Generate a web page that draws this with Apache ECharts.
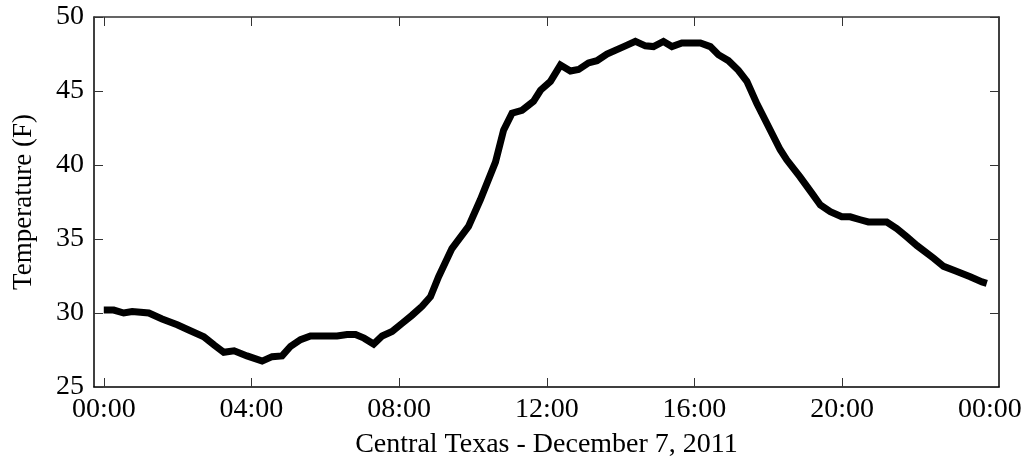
<!DOCTYPE html>
<html>
<head>
<meta charset="utf-8">
<script src="https://cdn.jsdelivr.net/npm/echarts@6/dist/echarts.min.js"></script>
<style>
  html, body { margin: 0; padding: 0; background: #ffffff; }
  #chart { width: 1034px; height: 460px; }
</style>
</head>
<body>
<div id="chart"></div>
<script>
// Hour of day (decimal hours) and air temperature in °F, Central Texas, 7 Dec 2011
const hours = [
  0.00, 0.27, 0.54, 0.77, 1.22, 1.58, 1.99, 2.30, 2.71, 2.98,
  3.25, 3.53, 3.88, 4.29, 4.56, 4.83, 5.06, 5.33, 5.60, 6.32,
  6.59, 6.82, 7.05, 7.31, 7.54, 7.81, 8.08, 8.35, 8.62, 8.85,
  9.07, 9.43, 9.88, 10.20, 10.61, 10.83, 11.06, 11.33, 11.64, 11.83,
  12.10, 12.37, 12.64, 12.86, 13.13, 13.36, 13.63, 14.13, 14.40, 14.67,
  14.89, 15.16, 15.39, 15.66, 16.16, 16.43, 16.65, 16.92, 17.19, 17.42,
  17.69, 18.32, 18.50, 18.86, 19.18, 19.41, 19.68, 19.99, 20.22, 20.49,
  20.71, 21.21, 21.48, 21.75, 22.03, 22.48, 22.75, 23.06, 23.47, 23.79,
  23.92
];
const tempF = [
  30.2, 30.2, 30.0, 30.1, 30.0, 29.6, 29.2, 28.85, 28.4, 27.85,
  27.35, 27.45, 27.1, 26.75, 27.05, 27.1, 27.75, 28.2, 28.45, 28.45,
  28.55, 28.55, 28.3, 27.9, 28.45, 28.75, 29.3, 29.85, 30.45, 31.1,
  32.45, 34.35, 35.85, 37.65, 40.2, 42.35, 43.5, 43.7, 44.3, 45.05,
  45.65, 46.75, 46.35, 46.45, 46.9, 47.05, 47.5, 48.05, 48.35, 48.05,
  48.0, 48.35, 48.0, 48.25, 48.25, 48.0, 47.45, 47.05, 46.4, 45.65,
  44.15, 41.05, 40.35, 39.2, 38.1, 37.3, 36.85, 36.5, 36.5, 36.3,
  36.15, 36.15, 35.7, 35.15, 34.55, 33.7, 33.15, 32.85, 32.45, 32.1,
  32.0
];

// Tick marks every 4 hours; the final midnight label sits at 24 h
const tickHours = [0, 4, 8, 12, 16, 20];
const labelHours = [0, 4, 8, 12, 16, 20, 24];
const yTickValues = [25, 30, 35, 40, 45, 50];

const serif = 'Liberation Serif';
const xMin = -0.265, xMax = 24.25;

function hhmm(h) {
  const hh = Math.round(h) % 24;
  return (hh < 10 ? '0' : '') + hh + ':00';
}

const chart = echarts.init(document.getElementById('chart'), null, { renderer: 'canvas' });

const tickStyle = { show: true, inside: true, length: 9, lineStyle: { color: '#333', width: 1 } };

chart.setOption({
  animation: false,
  backgroundColor: '#ffffff',
  grid: { left: 94, right: 35, top: 17, bottom: 73, containLabel: false, outerBoundsMode: 'none' },
  xAxis: [
    {
      type: 'value', min: xMin, max: xMax, position: 'bottom',
      axisLine: { show: true, onZero: false, lineStyle: { color: '#000', width: 1.5 } },
      axisTick: Object.assign({ customValues: tickHours }, tickStyle),
      axisLabel: {
        customValues: labelHours, formatter: hhmm, margin: 9,
        fontFamily: serif, fontSize: 28, color: '#000', showMinLabel: true, showMaxLabel: true
      },
      splitLine: { show: false },
      name: 'Central Texas - December 7, 2011',
      nameLocation: 'middle', nameGap: 44,
      nameTextStyle: { fontFamily: serif, fontSize: 28, color: '#000' }
    },
    {
      type: 'value', min: xMin, max: xMax, position: 'top',
      axisLine: { show: true, onZero: false, lineStyle: { color: '#333', width: 1.5 } },
      axisTick: Object.assign({ customValues: tickHours }, tickStyle),
      axisLabel: { show: false },
      splitLine: { show: false }
    }
  ],
  yAxis: [
    {
      type: 'value', min: 25, max: 50, interval: 5, position: 'left',
      axisLine: { show: true, onZero: false, lineStyle: { color: '#000', width: 1.5 } },
      axisTick: tickStyle,
      axisLabel: {
        margin: 10, fontFamily: serif, fontSize: 28, color: '#000',
        customValues: yTickValues
      },
      splitLine: { show: false },
      name: 'Temperature (F)',
      nameLocation: 'middle', nameGap: 57,
      nameTextStyle: { fontFamily: serif, fontSize: 27, color: '#000' }
    },
    {
      type: 'value', min: 25, max: 50, interval: 5, position: 'right',
      axisLine: { show: true, onZero: false, lineStyle: { color: '#000', width: 1.5 } },
      axisTick: tickStyle,
      axisLabel: { show: false },
      splitLine: { show: false }
    }
  ],
  series: [{
    type: 'line',
    xAxisIndex: 0, yAxisIndex: 0,
    data: hours.map((h, i) => [h, tempF[i]]),
    showSymbol: false, symbol: 'none',
    lineStyle: { color: '#000', width: 7, cap: 'butt', join: 'miter', miterLimit: 3 },
    smooth: false
  }]
});
</script>
</body>
</html>
